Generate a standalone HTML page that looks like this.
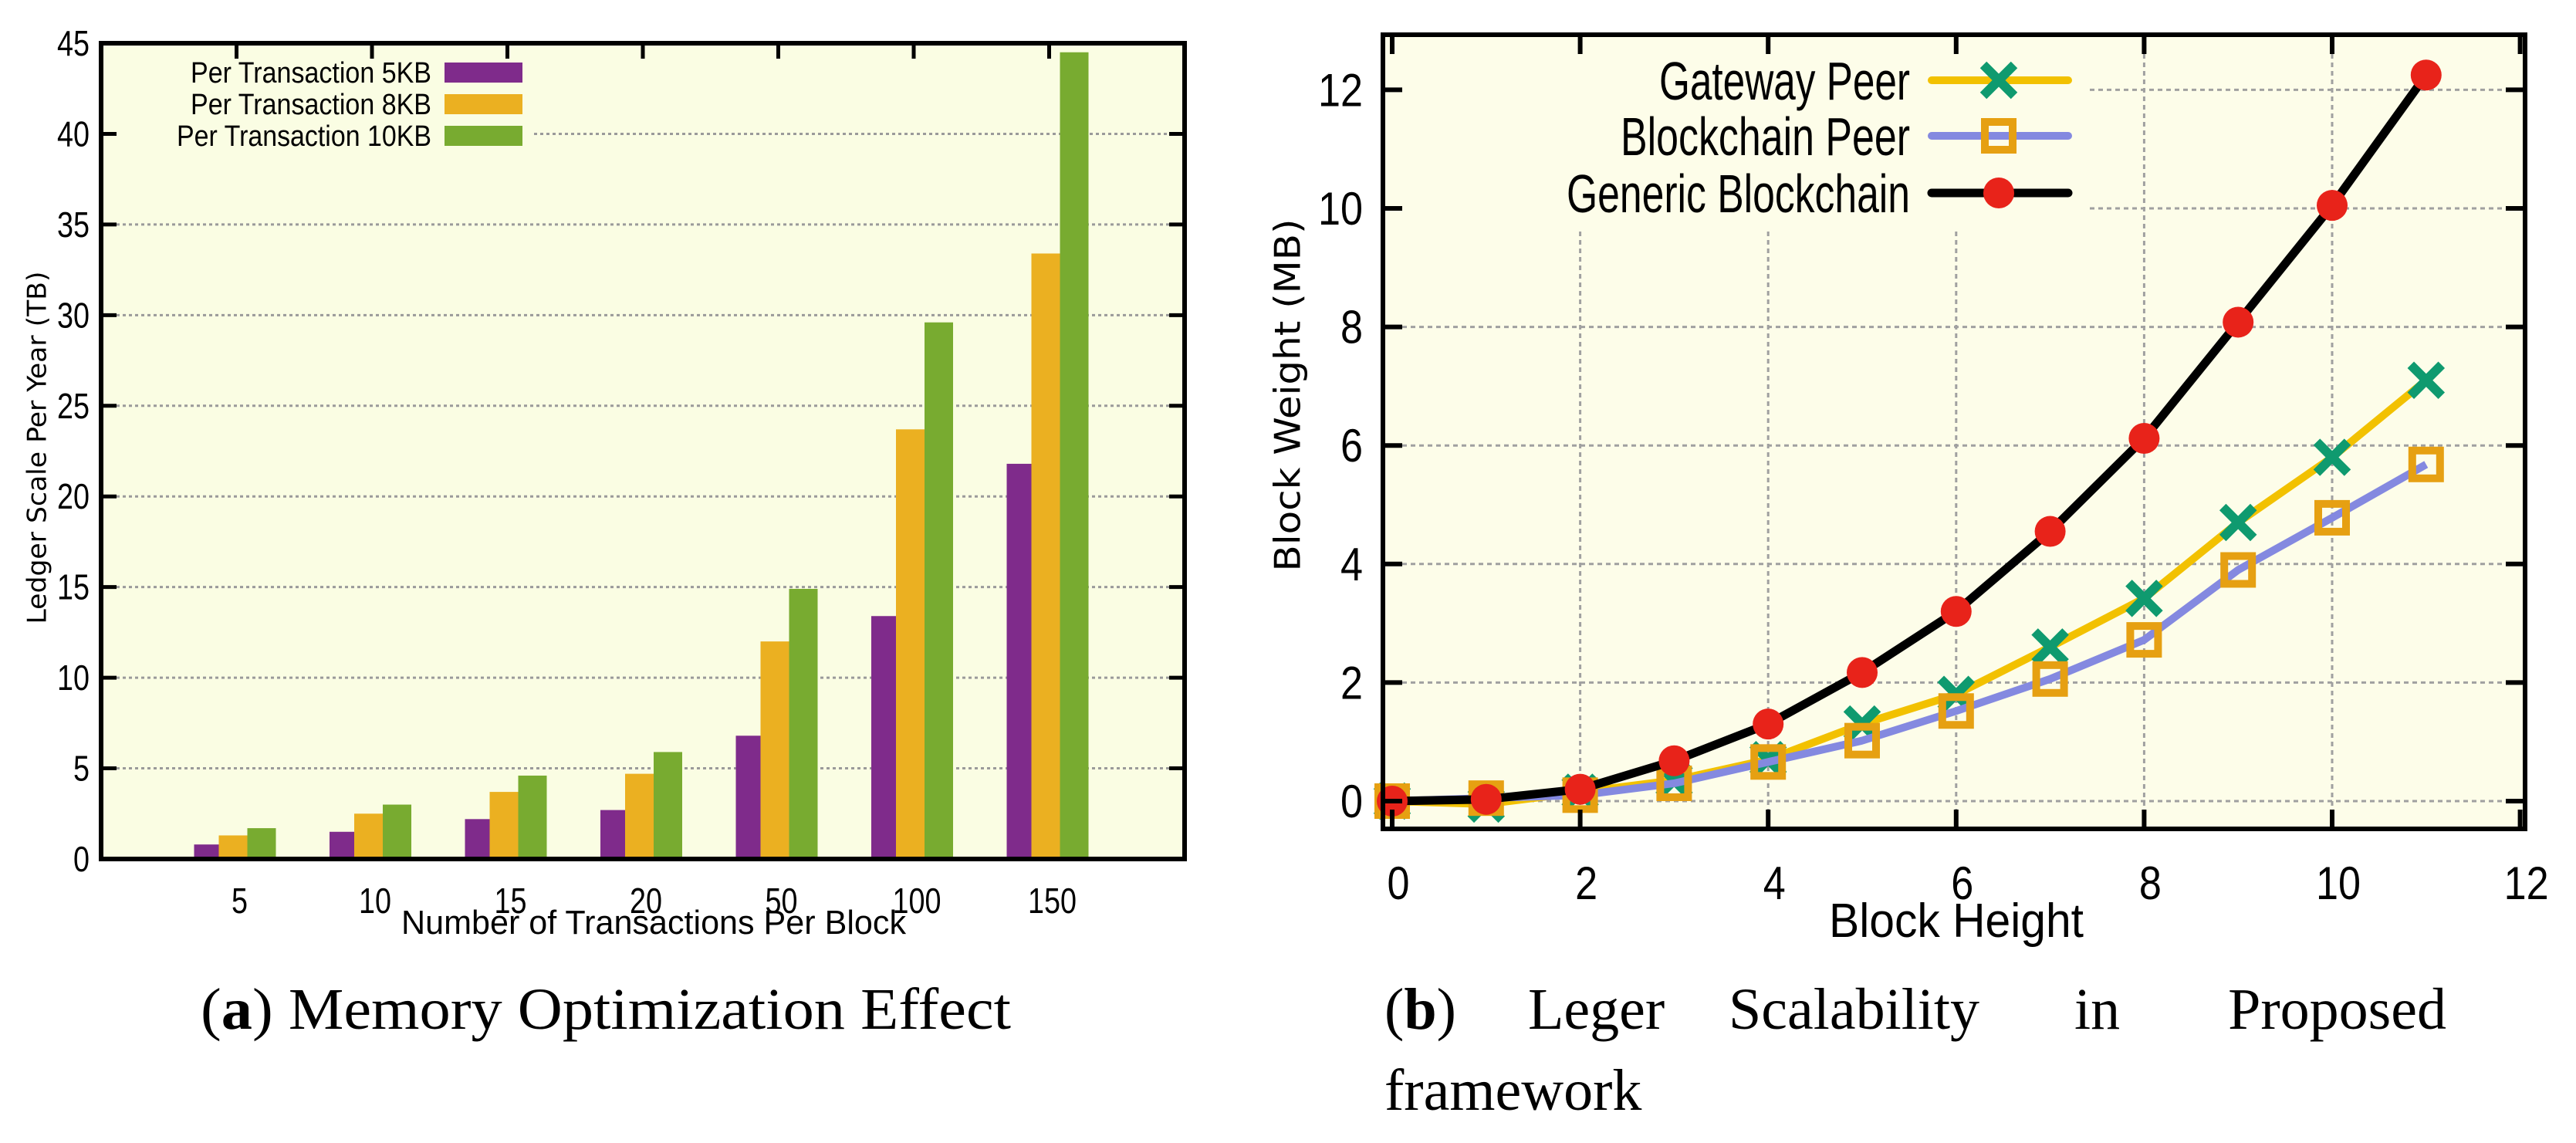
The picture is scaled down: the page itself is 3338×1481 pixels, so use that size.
<!DOCTYPE html>
<html><head><meta charset="utf-8"><style>
html,body{margin:0;padding:0;background:#fff;}
svg{display:block;}
</style></head><body>
<svg id="root" width="3338" height="1481" viewBox="0 0 3338 1481" xmlns="http://www.w3.org/2000/svg" font-family="Liberation Sans, sans-serif">
  <g id="chartA">
    <rect x="131" y="56" width="1404" height="1057" fill="#fafde3"/>
    <g id="gridA"></g>
    <g id="barsA"></g>
    <g id="legendA"></g>
    <rect x="131" y="56" width="1404" height="1057" fill="none" stroke="#000" stroke-width="6"/>
    <g id="ticksA"></g>
    <text x="50" y="580" transform="rotate(-90 50 580)" text-anchor="middle" dominant-baseline="middle" style="font-family:'DejaVu Sans',sans-serif" font-size="34" textLength="457" lengthAdjust="spacingAndGlyphs">Ledger Scale Per Year (TB)</text>
    <text x="847" y="1210" text-anchor="middle" font-size="44" textLength="654" lengthAdjust="spacingAndGlyphs">Number of Transactions Per Block</text>
  </g>
  <g id="chartB">
    <rect x="1792" y="45" width="1480" height="1029" fill="#fdfde9"/>
    <g id="gridB"></g>
    <g id="legendBBg"></g>
    <g id="linesB"></g>
    <g id="legendB"></g>
    <rect x="1792" y="45" width="1480" height="1029" fill="none" stroke="#000" stroke-width="6"/>
    <g id="ticksB"></g>
    <text x="1672" y="512" transform="rotate(-90 1672 512)" text-anchor="middle" dominant-baseline="middle" style="font-family:'DejaVu Sans',sans-serif" font-size="46" textLength="457" lengthAdjust="spacingAndGlyphs">Block Weight (MB)</text>
    <text x="2535" y="1214" text-anchor="middle" font-size="62" textLength="330" lengthAdjust="spacingAndGlyphs">Block Height</text>
  </g>
  <g style="font-family:'Liberation Serif',serif" font-size="76">
    <text x="260" y="1333" textLength="1050" lengthAdjust="spacingAndGlyphs">(<tspan font-weight="bold">a</tspan>) Memory Optimization Effect</text>
    <text x="1794" y="1333">(<tspan font-weight="bold">b</tspan>)</text>
    <text x="1980" y="1333">Leger</text>
    <text x="2240" y="1333">Scalability</text>
    <text x="2688" y="1333">in</text>
    <text x="3170" y="1333" text-anchor="end">Proposed</text>
    <text x="1794" y="1438">framework</text>
  </g>
</svg>
<script>
// ---------- Chart A data ----------
const categoriesA = ["5","10","15","20","50","100","150"];
const seriesNamesA = ["Per Transaction 5KB","Per Transaction 8KB","Per Transaction 10KB"];
const values5KB = [0.8,1.5,2.2,2.7,6.8,13.4,21.8];
const values8KB = [1.3,2.5,3.7,4.7,12.0,23.7,33.4];
const values10KB = [1.7,3.0,4.6,5.9,14.9,29.6,44.5];
const yTicksA = [0,5,10,15,20,25,30,35,40,45];
// ---------- Chart B data ----------
const xValuesB = [0,1,2,3,4,5,6,7,8,9,10,11];
const gatewayPeer = [0,-0.05,0.15,0.35,0.7,1.3,1.8,2.6,3.42,4.7,5.8,7.1];
const blockchainPeer = [0,0.05,0.1,0.3,0.66,1.02,1.52,2.06,2.72,3.9,4.78,5.68];
const genericBlockchain = [0,0.03,0.2,0.68,1.3,2.17,3.2,4.55,6.12,8.08,10.05,12.25];
const xTicksB = [0,2,4,6,8,10,12];
const yTicksB = [0,2,4,6,8,10,12];
const seriesNamesB = ["Gateway Peer","Blockchain Peer","Generic Blockchain"];

const NS="http://www.w3.org/2000/svg";
function mk(tag, attrs, parent, txt){
  const e=document.createElementNS(NS,tag);
  for(const k in attrs) e.setAttribute(k,attrs[k]);
  if(txt!==undefined) e.textContent=txt;
  parent.appendChild(e); return e;
}
// ---- Chart A axes ----
const aL=131,aR=1535,aT=56,aB=1113;
const yA = v => aB - v*(aB-aT)/45;
const xA = i => aL + (i+1)*(aR-aL)/8;
const gridA=document.getElementById('gridA'), ticksA=document.getElementById('ticksA');
yTicksA.forEach(t=>{
  const y=yA(t);
  if(t>0 && t<45){
    const x0 = t>=40 ? 692 : aL+20;
    const g=mk('line',{x1:x0,x2:aR-20,y1:y,y2:y,stroke:'#9a9a9a','stroke-width':3,'stroke-dasharray':'4 4'},gridA);
    
    
  }
  const tk=mk('path',{d:`M${aL} ${y}h20M${aR} ${y}h-20`,stroke:'#000','stroke-width':5},ticksA);
  
  
  const lb=mk('text',{x:116,y:y+16,'text-anchor':'end','font-size':46,textLength:String(t).length*21,lengthAdjust:'spacingAndGlyphs'},ticksA,String(t));
  
  
});
const barsA=document.getElementById('barsA');
const colorsA=['#7f2b8b','#ebb021','#78ab30'];
const seriesA=[values5KB,values8KB,values10KB];
const offs=[[-55,-23],[-23,14],[14,51]];
categoriesA.forEach((c,i)=>{
  const cx=xA(i);
  seriesA.forEach((s,k)=>{
    const r=mk('rect',{x:cx+offs[k][0],width:offs[k][1]-offs[k][0],y:yA(s[i]),height:aB-yA(s[i]),fill:colorsA[k]},barsA);
    
    
  });
  const tk=mk('path',{d:`M${cx} ${aT}v20`,stroke:'#000','stroke-width':5},ticksA);
  
  
  const lb=mk('text',{x:cx+4,y:1183,'text-anchor':'middle','font-size':46,textLength:c.length*21,lengthAdjust:'spacingAndGlyphs'},ticksA,c);
  
  
});
const legendA=document.getElementById('legendA');
const legLenA=[312,312,330];
seriesNamesA.forEach((n,k)=>{
  const y=94+k*41;
  const t=mk('text',{x:559,y:y+13,'text-anchor':'end','font-size':38,textLength:legLenA[k],lengthAdjust:'spacingAndGlyphs'},legendA,n);
  
  
  const r=mk('rect',{x:576,y:y-13,width:101,height:26,fill:colorsA[k]},legendA);
  
  
});
// ---- Chart B axes ----
const bL=1792,bR=3272,bT=45,bB=1074;
const xB = v => 1804 + v*121.8;
const yB = v => 1038 - v*76.8;
const gridB=document.getElementById('gridB'), ticksB=document.getElementById('ticksB');
yTicksB.forEach(t=>{
  const y=yB(t);
  const x0 = (t>=10) ? 2708 : bL+25;
  const g=mk('line',{x1:x0,x2:bR-25,y1:y,y2:y,stroke:'#a0a0a0','stroke-width':3,'stroke-dasharray':'6 5'},gridB);
  
  
  const tk=mk('path',{d:`M${bL} ${y}h25M${bR} ${y}h-25`,stroke:'#000','stroke-width':6},ticksB);
  
  
  const lb=mk('text',{x:1766,y:y+21,'text-anchor':'end','font-size':60,textLength:String(t).length*29,lengthAdjust:'spacingAndGlyphs'},ticksB,String(t));
  
  
});
xTicksB.forEach(t=>{
  const x=xB(t);
  if(t>0 && t<12){
    const y0 = (t>=2 && t<=6) ? 300 : bT+25;
    const g=mk('line',{x1:x,x2:x,y1:y0,y2:bB-25,stroke:'#a0a0a0','stroke-width':3,'stroke-dasharray':'6 5'},gridB);
    
    
  }
  const tk=mk('path',{d:`M${x} ${bB}v-25M${x} ${bT}v25`,stroke:'#000','stroke-width':6},ticksB);
  
  
  const lb=mk('text',{x:x+8,y:1165,'text-anchor':'middle','font-size':60,textLength:String(t).length*29,lengthAdjust:'spacingAndGlyphs'},ticksB,String(t));
  
  
});
const linesB=document.getElementById('linesB');
function pts(arr){return xValuesB.map((x,i)=>xB(x)+','+yB(arr[i])).join(' ');}
function xMarker(cx,cy,parent){
  return mk('path',{d:`M${cx-20} ${cy-20}L${cx+20} ${cy+20}M${cx-20} ${cy+20}L${cx+20} ${cy-20}`,stroke:'#0f9a6f','stroke-width':12,fill:'none'},parent);
}
function sqMarker(cx,cy,parent){
  return mk('rect',{x:cx-18,y:cy-18,width:36,height:36,fill:'none',stroke:'#e6a012','stroke-width':10},parent);
}
function dotMarker(cx,cy,parent){
  return mk('circle',{cx:cx,cy:cy,r:20,fill:'#e8231a'},parent);
}
let l1=mk('polyline',{points:pts(gatewayPeer),fill:'none',stroke:'#f2c100','stroke-width':10,'stroke-linejoin':'round'},linesB);


xValuesB.forEach((x,i)=>{const m=xMarker(xB(x),yB(gatewayPeer[i]),linesB);
  
  });
let l2=mk('polyline',{points:pts(blockchainPeer),fill:'none',stroke:'#8489e0','stroke-width':10,'stroke-linejoin':'round'},linesB);


xValuesB.forEach((x,i)=>{const m=sqMarker(xB(x),yB(blockchainPeer[i]),linesB);
  
  });
let l3=mk('polyline',{points:pts(genericBlockchain),fill:'none',stroke:'#000','stroke-width':11,'stroke-linejoin':'round'},linesB);


xValuesB.forEach((x,i)=>{const m=dotMarker(xB(x),yB(genericBlockchain[i]),linesB);
  
  });
// legend B
const legendB=document.getElementById('legendB');
const bg=mk('rect',{x:1900,y:55,width:808,height:245,fill:'#fdfde9'},document.getElementById('legendBBg'));


const lw=[325,375,445];
const lcol=['#f2c100','#8489e0','#000'];
const mfn=[xMarker,sqMarker,dotMarker];
seriesNamesB.forEach((n,k)=>{
  const y=[104,176,250][k];
  const t=mk('text',{x:2475,y:y+25,'text-anchor':'end','font-size':70,textLength:lw[k],lengthAdjust:'spacingAndGlyphs'},legendB,n);
  
  
  const ln=mk('line',{x1:2503,x2:2680,y1:y,y2:y,stroke:lcol[k],'stroke-width':k==2?11:10,'stroke-linecap':'round'},legendB);
  
  
  const m=mfn[k](2590,y,legendB);
  
  
});
</script>
</body></html>
